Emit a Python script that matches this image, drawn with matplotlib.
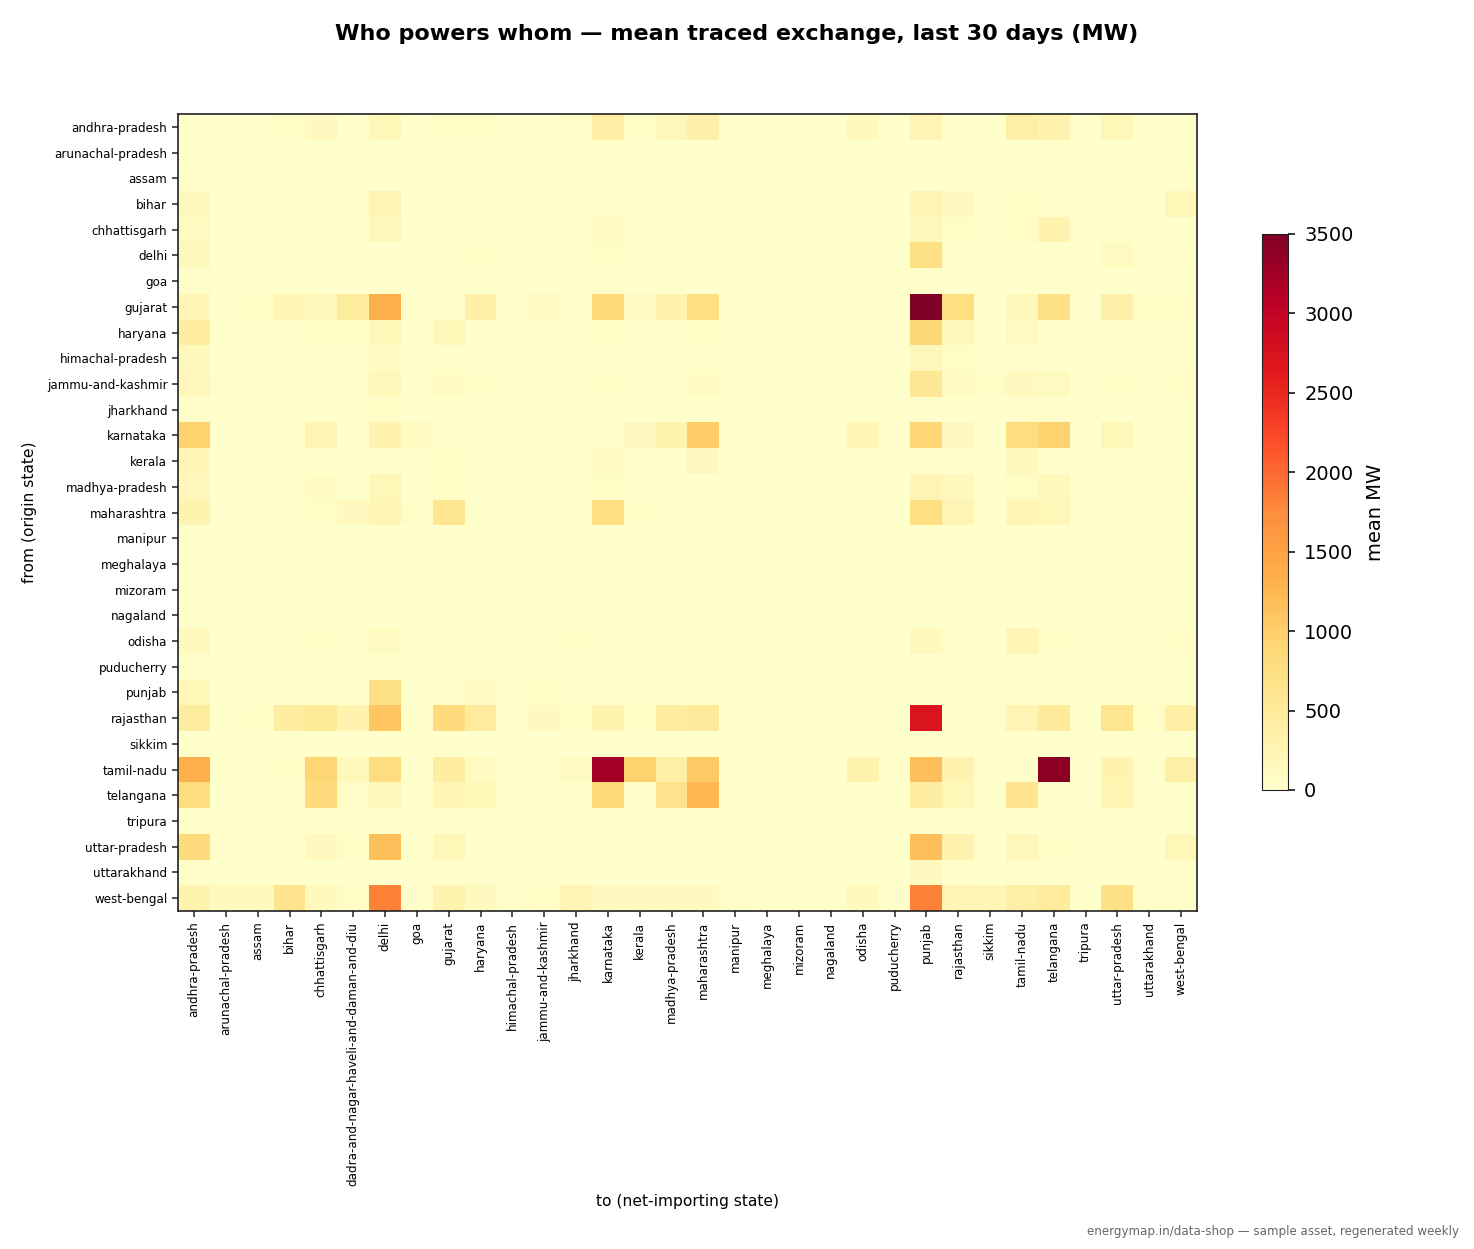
import numpy as np
import matplotlib
matplotlib.use("Agg")
import matplotlib.pyplot as plt

# ---------------------------------------------------------------- data
from_states = ['andhra-pradesh', 'arunachal-pradesh', 'assam', 'bihar', 'chhattisgarh', 'delhi', 'goa',
               'gujarat', 'haryana', 'himachal-pradesh', 'jammu-and-kashmir', 'jharkhand', 'karnataka',
               'kerala', 'madhya-pradesh', 'maharashtra', 'manipur', 'meghalaya', 'mizoram', 'nagaland',
               'odisha', 'puducherry', 'punjab', 'rajasthan', 'sikkim', 'tamil-nadu', 'telangana',
               'tripura', 'uttar-pradesh', 'uttarakhand', 'west-bengal']

to_states = ['andhra-pradesh', 'arunachal-pradesh', 'assam', 'bihar', 'chhattisgarh',
             'dadra-and-nagar-haveli-and-daman-and-diu', 'delhi', 'goa', 'gujarat', 'haryana',
             'himachal-pradesh', 'jammu-and-kashmir', 'jharkhand', 'karnataka', 'kerala', 'madhya-pradesh',
             'maharashtra', 'manipur', 'meghalaya', 'mizoram', 'nagaland', 'odisha', 'puducherry', 'punjab',
             'rajasthan', 'sikkim', 'tamil-nadu', 'telangana', 'tripura', 'uttar-pradesh', 'uttarakhand',
             'west-bengal']

# mean traced MW, one row per origin state (columns follow to_states)
mean_mw = [
    [0, 0, 0, 80, 130, 0, 200, 0, 80, 60, 0, 0, 50, 400, 80, 180, 350, 0, 0, 0, 0, 150, 0, 250, 0, 0, 380, 300, 0, 200, 0, 0],        # andhra-pradesh
    [0, 0, 0, 0, 0, 0, 0, 0, 0, 0, 0, 0, 0, 0, 0, 0, 0, 0, 0, 0, 0, 0, 0, 0, 0, 0, 0, 0, 0, 0, 0, 0],                                  # arunachal-pradesh
    [40, 30, 0, 0, 0, 0, 0, 0, 0, 0, 0, 0, 0, 0, 0, 0, 0, 0, 0, 0, 0, 0, 0, 30, 0, 0, 0, 0, 0, 0, 0, 40],                              # assam
    [170, 0, 0, 0, 10, 20, 250, 0, 40, 0, 0, 0, 20, 20, 20, 20, 20, 0, 0, 0, 0, 0, 0, 250, 130, 20, 80, 40, 0, 30, 0, 200],            # bihar
    [110, 0, 0, 0, 0, 0, 170, 0, 0, 0, 0, 0, 0, 110, 20, 20, 0, 0, 0, 0, 0, 0, 0, 170, 60, 0, 80, 300, 0, 0, 0, 0],                   # chhattisgarh
    [160, 20, 0, 0, 0, 0, 0, 0, 30, 60, 0, 20, 20, 60, 20, 0, 0, 0, 0, 0, 0, 0, 0, 720, 50, 0, 40, 0, 0, 110, 0, 20],                 # delhi
    [20, 0, 0, 0, 0, 0, 0, 0, 0, 0, 0, 0, 0, 0, 0, 0, 0, 0, 0, 0, 0, 0, 0, 0, 0, 0, 0, 0, 0, 0, 0, 0],                                 # goa
    [220, 0, 70, 230, 180, 450, 1350, 30, 0, 380, 40, 110, 50, 870, 120, 300, 750, 0, 0, 0, 0, 20, 0, 3500, 750, 40, 170, 720, 20, 350, 60, 80],  # gujarat
    [420, 10, 0, 10, 60, 80, 200, 0, 200, 0, 10, 30, 20, 60, 20, 20, 60, 0, 0, 0, 0, 0, 0, 880, 180, 0, 120, 0, 0, 0, 0, 50],         # haryana
    [170, 0, 0, 0, 30, 50, 100, 0, 40, 0, 0, 0, 0, 40, 30, 30, 40, 0, 0, 0, 0, 0, 0, 180, 60, 20, 40, 40, 0, 40, 50, 40],             # himachal-pradesh
    [190, 40, 0, 50, 50, 50, 170, 0, 100, 80, 0, 0, 0, 60, 50, 50, 90, 0, 0, 0, 0, 30, 0, 560, 100, 60, 130, 120, 0, 80, 40, 60],     # jammu-and-kashmir
    [30, 0, 0, 0, 0, 0, 60, 0, 0, 0, 0, 0, 0, 0, 0, 0, 0, 0, 0, 0, 0, 0, 0, 40, 0, 0, 40, 40, 0, 0, 0, 0],                             # jharkhand
    [950, 0, 0, 0, 250, 0, 300, 120, 50, 50, 0, 0, 40, 0, 130, 280, 1020, 0, 0, 0, 0, 220, 30, 900, 130, 0, 780, 950, 0, 200, 0, 0],  # karnataka
    [230, 0, 0, 0, 0, 0, 0, 0, 60, 0, 0, 0, 20, 110, 0, 0, 130, 0, 0, 0, 0, 0, 0, 40, 40, 0, 150, 0, 0, 0, 0, 0],                     # kerala
    [180, 0, 0, 0, 100, 0, 200, 0, 60, 0, 0, 0, 0, 80, 0, 0, 0, 0, 0, 0, 0, 0, 0, 250, 160, 0, 80, 170, 0, 0, 0, 20],                # madhya-pradesh
    [280, 0, 0, 50, 80, 130, 240, 50, 580, 0, 0, 30, 0, 750, 70, 0, 0, 0, 0, 0, 0, 0, 0, 750, 250, 0, 230, 200, 0, 0, 0, 0],         # maharashtra
    [0, 0, 0, 0, 0, 0, 0, 0, 0, 0, 0, 0, 0, 0, 0, 0, 0, 0, 0, 0, 0, 0, 0, 0, 0, 0, 0, 0, 0, 0, 0, 0],                                  # manipur
    [0, 0, 0, 0, 0, 0, 0, 0, 0, 0, 0, 0, 0, 0, 0, 0, 0, 0, 0, 0, 0, 0, 0, 0, 0, 0, 0, 0, 0, 0, 0, 0],                                  # meghalaya
    [0, 0, 0, 0, 0, 0, 0, 0, 0, 0, 0, 0, 0, 0, 0, 0, 0, 0, 0, 0, 0, 0, 0, 0, 0, 0, 0, 0, 0, 0, 0, 0],                                  # mizoram
    [0, 0, 0, 0, 0, 0, 0, 0, 0, 0, 0, 0, 0, 0, 0, 0, 0, 0, 0, 0, 0, 0, 0, 0, 0, 0, 0, 0, 0, 0, 0, 0],                                  # nagaland
    [150, 0, 0, 0, 60, 0, 120, 0, 0, 0, 0, 0, 60, 50, 30, 0, 0, 0, 0, 0, 0, 0, 0, 150, 50, 0, 220, 80, 0, 20, 0, 60],                 # odisha
    [20, 0, 0, 0, 0, 0, 0, 0, 0, 0, 0, 0, 0, 0, 0, 0, 0, 0, 0, 0, 0, 0, 0, 0, 0, 0, 0, 0, 0, 0, 0, 0],                                 # puducherry
    [200, 0, 0, 0, 0, 0, 720, 0, 30, 100, 0, 60, 10, 0, 0, 0, 0, 0, 0, 0, 0, 0, 0, 0, 40, 0, 0, 0, 0, 0, 20, 0],                       # punjab
    [450, 20, 80, 420, 520, 300, 1100, 0, 800, 470, 0, 130, 60, 280, 60, 450, 500, 0, 0, 0, 0, 40, 0, 2720, 0, 30, 250, 500, 0, 600, 70, 400],  # rajasthan
    [0, 0, 0, 0, 0, 0, 0, 0, 0, 0, 0, 0, 0, 0, 0, 0, 0, 0, 0, 0, 0, 0, 0, 0, 0, 0, 0, 0, 0, 0, 0, 0],                                  # sikkim
    [1330, 0, 0, 80, 900, 170, 780, 0, 420, 120, 0, 0, 120, 3250, 950, 380, 1050, 0, 0, 0, 0, 280, 40, 1150, 300, 0, 0, 3400, 0, 300, 0, 380],  # tamil-nadu
    [780, 0, 0, 0, 800, 50, 160, 0, 230, 200, 0, 0, 0, 870, 0, 650, 1250, 0, 0, 0, 0, 0, 0, 420, 200, 0, 620, 0, 0, 260, 0, 0],       # telangana
    [10, 20, 0, 0, 0, 0, 0, 0, 0, 0, 0, 0, 0, 0, 0, 0, 0, 0, 0, 0, 0, 0, 0, 0, 0, 0, 0, 0, 0, 0, 0, 0],                                # tripura
    [800, 30, 0, 0, 130, 80, 1150, 0, 200, 0, 0, 0, 30, 40, 40, 50, 50, 0, 0, 0, 0, 0, 0, 1150, 300, 0, 180, 70, 0, 0, 0, 200],       # uttar-pradesh
    [20, 0, 0, 0, 0, 0, 0, 0, 30, 30, 50, 0, 0, 0, 0, 0, 0, 0, 0, 0, 0, 0, 0, 130, 30, 0, 30, 40, 0, 0, 0, 40],                        # uttarakhand
    [280, 150, 150, 620, 150, 80, 1820, 0, 280, 130, 20, 60, 250, 130, 130, 130, 130, 20, 0, 0, 0, 150, 0, 1820, 220, 240, 380, 480, 0, 700, 40, 20],  # west-bengal
]

# ---------------------------------------------------------------- plot
fig = plt.figure(figsize=(14.74, 12.49), dpi=100)
ax = fig.add_axes([0.1208, 0.2706, 0.6913, 0.6381])
cax = fig.add_axes([0.8562, 0.3675, 0.0176, 0.4452])

im = ax.imshow(np.array(mean_mw), cmap='YlOrRd', vmin=0, vmax=3500, aspect='auto', interpolation='nearest')

ax.set_xticks(range(len(to_states)))
ax.set_xticklabels(to_states, rotation=90, fontsize=8.6)
ax.set_yticks(range(len(from_states)))
ax.set_yticklabels(from_states, fontsize=8.6)
for s in ax.spines.values():
    s.set_color('#222222')
    s.set_linewidth(1.2)
ax.tick_params(color='#222222', length=4.2, width=1.1)

ax.set_xlabel('to (net-importing state)', fontsize=11.2, labelpad=6)
ax.set_ylabel('from (origin state)', fontsize=11.2, labelpad=7)

cb = fig.colorbar(im, cax=cax)
cb.set_ticks([0, 500, 1000, 1500, 2000, 2500, 3000, 3500])
cb.ax.tick_params(labelsize=14, length=4.7, width=1.1, pad=7)
cb.outline.set_edgecolor('#222222')
cb.set_label('mean MW', fontsize=14, labelpad=9)

fig.suptitle('Who powers whom \u2014 mean traced exchange, last 30 days (MW)',
             fontsize=16, fontweight='bold', x=0.5, y=0.981)
fig.text(0.9895, 0.009, 'energymap.in/data-shop \u2014 sample asset, regenerated weekly',
         ha='right', va='bottom', fontsize=8.6, color='#666666')

fig.savefig('out.png', dpi=100)
